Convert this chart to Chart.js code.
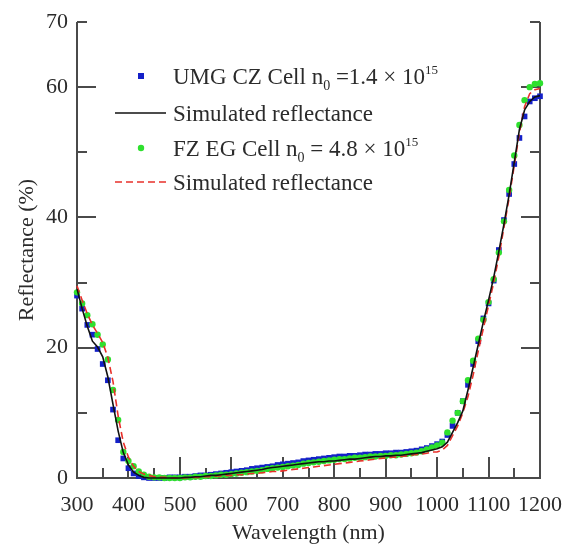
<!DOCTYPE html>
<html>
<head>
<meta charset="utf-8">
<script src="https://cdn.jsdelivr.net/npm/chart.js@4.4.0/dist/chart.umd.min.js"></script>
<style>
  html, body { margin: 0; padding: 0; background: #fff; }
  #wrap { width: 563px; height: 546px; }
</style>
</head>
<body>
<div id="wrap"><canvas id="chart" width="563" height="546"></canvas></div>
<script>
const wavelengths = [
  300, 310, 320, 330, 340, 350, 360, 370, 380, 390,
  400, 410, 420, 430, 440, 450, 460, 470, 480, 490,
  500, 510, 520, 530, 540, 550, 560, 570, 580, 590,
  600, 610, 620, 630, 640, 650, 660, 670, 680, 690,
  700, 710, 720, 730, 740, 750, 760, 770, 780, 790,
  800, 810, 820, 830, 840, 850, 860, 870, 880, 890,
  900, 910, 920, 930, 940, 950, 960, 970, 980, 990,
  1000, 1010, 1020, 1030, 1040, 1050, 1060, 1070, 1080, 1090,
  1100, 1110, 1120, 1130, 1140, 1150, 1160, 1170, 1180, 1190,
  1200
];

// UMG CZ cell, measured (blue squares)
const umgMeasured = [
  28.0, 26.0, 23.5, 22.0, 19.8, 17.5, 15.0, 10.5, 5.8, 3.0,
  1.5, 0.7, 0.3, 0.1, 0.0, 0.0, 0.0, 0.0, 0.1, 0.1,
  0.1, 0.2, 0.2, 0.3, 0.4, 0.4, 0.5, 0.6, 0.7, 0.8,
  0.9, 1.0, 1.1, 1.2, 1.4, 1.5, 1.6, 1.7, 1.8, 2.0,
  2.1, 2.2, 2.3, 2.4, 2.6, 2.7, 2.8, 2.9, 3.0, 3.1,
  3.2, 3.3, 3.3, 3.4, 3.4, 3.5, 3.6, 3.6, 3.7, 3.7,
  3.8, 3.8, 3.9, 3.9, 4.0, 4.1, 4.2, 4.4, 4.6, 4.9,
  5.2, 5.6, 6.6, 8.0, 10.0, 11.8, 14.3, 17.5, 21.0, 24.5,
  26.8, 30.3, 35.0, 39.6, 43.6, 48.2, 52.2, 55.5, 57.8, 58.3,
  58.6
];

// UMG CZ cell, simulated (black line)
const umgSimulated = [
  29.0, 26.0, 23.3, 21.0, 20.1, 18.6, 15.5, 11.3, 7.2, 3.9,
  2.0, 0.9, 0.4, 0.1, 0.0, 0.0, 0.0, 0.0, 0.0, 0.0,
  0.0, 0.1, 0.1, 0.2, 0.2, 0.3, 0.4, 0.4, 0.5, 0.6,
  0.7, 0.8, 0.9, 1.0, 1.1, 1.2, 1.3, 1.5, 1.6, 1.7,
  1.8, 1.9, 2.0, 2.1, 2.2, 2.3, 2.4, 2.5, 2.5, 2.6,
  2.6, 2.7, 2.8, 2.9, 2.9, 3.0, 3.1, 3.2, 3.3, 3.3,
  3.4, 3.4, 3.5, 3.5, 3.6, 3.7, 3.8, 3.9, 4.1, 4.3,
  4.5, 4.8, 5.5, 7.0, 8.5, 10.3, 13.5, 17.0, 20.5, 24.0,
  27.3, 30.8, 34.8, 39.0, 43.5, 48.5, 53.5, 56.5, 57.8, 58.5,
  58.7
];

// FZ EG cell, measured (green dots)
const fzMeasured = [
  28.5, 26.8, 25.0, 23.6, 22.0, 20.5, 18.2, 13.5, 8.9, 4.0,
  2.6, 1.8, 1.0, 0.5, 0.2, 0.1, 0.1, 0.0, 0.0, 0.0,
  0.0, 0.1, 0.1, 0.2, 0.2, 0.3, 0.3, 0.4, 0.5, 0.5,
  0.6, 0.7, 0.8, 0.9, 1.0, 1.1, 1.2, 1.4, 1.5, 1.6,
  1.7, 1.8, 1.9, 2.0, 2.2, 2.3, 2.4, 2.5, 2.6, 2.7,
  2.8, 2.9, 2.9, 3.0, 3.1, 3.1, 3.2, 3.3, 3.3, 3.4,
  3.4, 3.5, 3.5, 3.6, 3.7, 3.8, 3.9, 4.1, 4.4, 4.7,
  5.0, 5.4, 7.0, 8.8, 10.0, 11.8, 15.0, 18.0, 21.4, 24.3,
  27.0, 30.5, 34.6, 39.4, 44.2, 49.5, 54.2, 58.0, 60.0, 60.5,
  60.6
];

// FZ EG cell, simulated (red dashed line)
const fzSimulated = [
  29.5, 27.3, 25.2, 23.5, 22.2, 20.8, 18.5, 14.8, 9.5, 5.5,
  3.2, 1.8, 1.0, 0.6, 0.4, 0.2, 0.1, 0.1, 0.0, 0.0,
  0.0, 0.0, 0.1, 0.1, 0.1, 0.2, 0.2, 0.3, 0.3, 0.4,
  0.4, 0.5, 0.5, 0.6, 0.7, 0.7, 0.8, 0.9, 1.0, 1.0,
  1.1, 1.2, 1.3, 1.4, 1.5, 1.6, 1.7, 1.8, 1.9, 2.0,
  2.1, 2.2, 2.3, 2.4, 2.5, 2.6, 2.7, 2.8, 2.9, 3.0,
  3.1, 3.2, 3.2, 3.3, 3.4, 3.5, 3.6, 3.7, 3.8, 4.0,
  4.0, 4.3, 5.0, 6.5, 8.0, 10.0, 12.5, 15.8, 19.5, 23.0,
  26.5, 30.0, 34.0, 38.5, 43.0, 48.0, 53.0, 57.0, 59.0, 59.6,
  59.8
];

// legend text, split so subscripts / superscripts can be drawn
const legendLabels = [
  [["UMG CZ Cell n"], ["0", "sub"], [" =1.4 \u00d7 10"], ["15", "sup"]],
  [["Simulated reflectance"]],
  [["FZ EG Cell n"], ["0", "sub"], [" = 4.8 \u00d7 10"], ["15", "sup"]],
  [["Simulated reflectance"]]
];

const serif = '"Liberation Serif", "DejaVu Serif", serif';
const textColor = "#2b2b2b";
const axisColor = "#4a4a4a";

function toPoints(values) {
  return values.map((v, i) => ({ x: wavelengths[i], y: v }));
}

// frame with inward ticks on left, bottom and right
const framePlugin = {
  id: "frame",
  beforeDatasetsDraw(chart) {
    const { ctx, chartArea: a, scales } = chart;
    const xs = scales.x, ys = scales.y;
    ctx.save();
    ctx.strokeStyle = axisColor;
    ctx.lineWidth = 2;
    ctx.beginPath();
    ctx.moveTo(a.left, a.top);
    ctx.lineTo(a.left, a.bottom);
    ctx.lineTo(a.right, a.bottom);
    ctx.lineTo(a.right, a.top);
    for (let v = 0; v <= 70; v += 10) {
      const y = Math.round(ys.getPixelForValue(v));
      const len = v % 20 === 0 ? 19 : 10;
      ctx.moveTo(a.left, y); ctx.lineTo(a.left + len, y);
      ctx.moveTo(a.right, y); ctx.lineTo(a.right - len, y);
    }
    for (let v = 350; v < 1200; v += 50) {
      const x = Math.round(xs.getPixelForValue(v));
      const len = v % 100 === 0 ? 21 : 10;
      ctx.moveTo(x, a.bottom); ctx.lineTo(x, a.bottom - len);
    }
    ctx.stroke();
    ctx.restore();
  }
};

// legend with n0 subscript and 10^15 superscript
const legendPlugin = {
  id: "richLegend",
  afterDraw(chart) {
    const { ctx } = chart;
    const rows = [76, 113, 148, 182];
    const textX = 173;
    ctx.save();
    chart.data.datasets.forEach((ds, i) => {
      const y = rows[i];
      if (ds.showLine === false) {
        ctx.fillStyle = ds.backgroundColor;
        if (ds.pointStyle === "rect") {
          ctx.fillRect(138, y - 3, 6, 6);
        } else {
          ctx.beginPath();
          ctx.arc(141, y, 3.2, 0, Math.PI * 2);
          ctx.fill();
        }
      } else {
        ctx.strokeStyle = ds.borderColor;
        ctx.lineWidth = ds.borderWidth;
        ctx.setLineDash(ds.borderDash || []);
        ctx.beginPath();
        ctx.moveTo(115, y);
        ctx.lineTo(166, y);
        ctx.stroke();
        ctx.setLineDash([]);
      }
      let x = textX;
      const base = y + 8;
      ctx.fillStyle = textColor;
      ctx.textBaseline = "alphabetic";
      legendLabels[i].forEach(([t, kind]) => {
        if (kind === "sub") {
          ctx.font = "14px " + serif;
          ctx.fillText(t, x, base + 6);
        } else if (kind === "sup") {
          ctx.font = "13px " + serif;
          ctx.fillText(t, x, base - 10);
        } else {
          ctx.font = "23px " + serif;
          ctx.fillText(t, x, base);
        }
        x += ctx.measureText(t).width;
      });
    });
    ctx.restore();
  }
};

new Chart(document.getElementById("chart"), {
  type: "line",
  data: {
    datasets: [
      {
        label: "UMG CZ Cell n0 =1.4 x 10^15",
        data: toPoints(umgMeasured),
        showLine: false,
        pointStyle: "rect",
        pointRadius: 4,
        backgroundColor: "#1420c8",
        borderColor: "#1420c8",
        borderWidth: 0,
        order: 4
      },
      {
        label: "Simulated reflectance",
        data: toPoints(umgSimulated),
        borderColor: "#111111",
        borderWidth: 1.6,
        pointRadius: 0,
        order: 1
      },
      {
        label: "FZ EG Cell n0 = 4.8 x 10^15",
        data: toPoints(fzMeasured),
        showLine: false,
        pointStyle: "circle",
        pointRadius: 3.2,
        backgroundColor: "#2ee02e",
        borderColor: "#2ee02e",
        borderWidth: 0,
        order: 3
      },
      {
        label: "Simulated reflectance",
        data: toPoints(fzSimulated),
        borderColor: "#e8302a",
        borderWidth: 1.6,
        borderDash: [7, 4],
        pointRadius: 0,
        order: 2
      }
    ]
  },
  options: {
    responsive: false,
    animation: false,
    clip: false,
    layout: { padding: { top: 22, right: 23, left: 0, bottom: 0 } },
    plugins: {
      legend: { display: false },
      tooltip: { enabled: false }
    },
    scales: {
      x: {
        type: "linear",
        min: 300,
        max: 1200,
        afterFit(scale) {
          scale.height = 68;
          scale.paddingLeft = 0;
          scale.paddingRight = 0;
        },
        grid: { display: false, drawTicks: false },
        border: { display: false },
        ticks: {
          stepSize: 100,
          autoSkip: false,
          maxRotation: 0,
          padding: 14,
          color: textColor,
          font: { family: serif, size: 22 },
          callback: (v) => String(v)
        },
        title: {
          display: true,
          text: "Wavelength (nm)",
          color: textColor,
          padding: { top: 0, bottom: 0 },
          font: { family: serif, size: 22 }
        }
      },
      y: {
        min: 0,
        max: 70,
        afterFit(scale) {
          scale.width = 77;
          scale.paddingTop = 0;
          scale.paddingBottom = 0;
        },
        grid: { display: false, drawTicks: false },
        border: { display: false },
        ticks: {
          stepSize: 10,
          padding: 9,
          color: textColor,
          font: { family: serif, size: 22 },
          callback: (v) => (v % 20 === 0 || v === 70 ? String(v) : "")
        },
        title: {
          display: true,
          text: "Reflectance (%)",
          color: textColor,
          padding: { top: 14, bottom: 0 },
          font: { family: serif, size: 22 }
        }
      }
    }
  },
  plugins: [framePlugin, legendPlugin]
});
</script>
</body>
</html>
